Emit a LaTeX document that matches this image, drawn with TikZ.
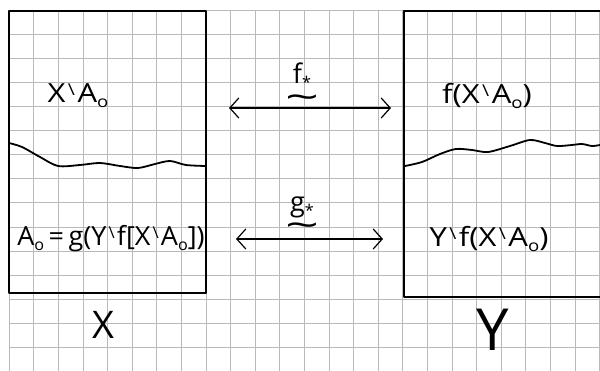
\documentclass[tikz,border=0pt]{standalone}
\usepackage{fontspec}
\setmainfont{Open Sans}
\usetikzlibrary{arrows.meta}
\newcommand{\smin}{\hspace{0.08em}\raisebox{0.5ex}{\scalebox{0.62}{\textbackslash}}\hspace{0.08em}}
\newcommand{\sub}[1]{\raisebox{-0.35ex}{\scalebox{0.6}{#1}}}
\newcommand{\squig}{\scalebox{2.2}[1.3]{\textasciitilde}}
\tikzset{
  gridline/.style = {gray!55, line width=0.6pt},
  boxline/.style  = {black, line width=1.8pt, line join=round},
  wave/.style     = {black, line width=1.8pt, line cap=round},
  maparr/.style   = {{Straight Barb[length=9pt,width=20pt]}-{Straight Barb[length=9pt,width=20pt]},
                     black, line width=1.2pt},
  setlbl/.style   = {font=\fontsize{31}{34}\selectfont, inner sep=0pt, yscale=0.85},
  maplbl/.style   = {font=\fontsize{27}{28}\selectfont, inner sep=0pt, align=center},
  spacelbl/.style = {inner sep=0pt}
}

\begin{document}
\begin{tikzpicture}[x=1pt,y=-1pt]
  \useasboundingbox (0,0) rectangle (600,371);
  % squared paper
  \foreach \i in {0,...,24} { \draw[gridline] ({9+24.6*\i},10) -- ({9+24.6*\i},371); }
  \foreach \j in {0,...,14} { \draw[gridline] (9,{10+24.1*\j}) -- (600,{10+24.1*\j}); }
  % the two sets
  \draw[boxline] (9,11) rectangle (206,293);
  \draw[boxline] (600,11) -- (404,11) -- (404,297) -- (600,297);
  \draw[wave] plot[smooth] coordinates {(9,143) (22,147) (40,157) (58,166) (80,165)
        (100,163) (120,166) (138,168) (155,164) (170,161) (186,165) (206,166)};
  \draw[wave] plot[smooth] coordinates {(405,166) (422,162) (440,154) (456,149) (472,150)
        (488,152) (510,146) (530,140) (545,143) (557,146) (572,145) (582,144) (592,146) (600,145)};
  % texts
  \node[setlbl] (xa)   at (78,96)   {X\smin A\sub{o}};
  \node[setlbl] (fxa)  at (487,96)  {f(X\smin A\sub{o})};
  \node[setlbl,xscale=0.87] (a0) at (111,239) {A\sub{o}\,=\,g(Y\smin f[X\smin A\sub{o}])};
  \node[setlbl] (yfxa) at (489,239) {Y\smin f(X\smin A\sub{o})};
  \node[spacelbl,font=\fontsize{38}{44}\selectfont] (sx) at (103,325) {X};
  \node[spacelbl,font=\fontsize{58}{64}\selectfont] (sy) at (493,330) {Y};
  % the maps
  \coordinate (fL) at (229,108); \coordinate (fR) at (391,108);
  \coordinate (gL) at (236,239); \coordinate (gR) at (383,239);
  \draw[maparr] (fL) -- (fR);
  \draw[maparr] (gL) -- (gR);
  \node[maplbl] (fs) at (302,86)  {f\sub{*}\\[-2pt]\squig};
  \node[maplbl] (gs) at (302,217) {g\sub{*}\\[-2pt]\squig};
\end{tikzpicture}
\end{document}
